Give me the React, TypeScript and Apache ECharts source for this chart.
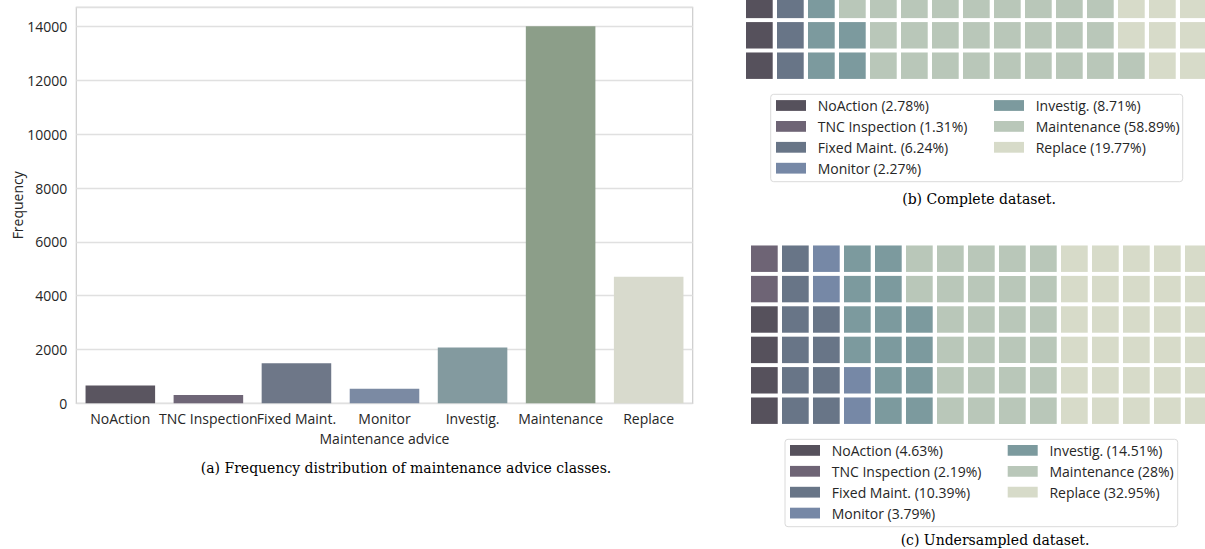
import React, { useEffect, useRef } from "react";
import * as echarts from "echarts";

// Maintenance advice classes, in plotting order
const categories = [
  "NoAction",
  "TNC Inspection",
  "Fixed Maint.",
  "Monitor",
  "Investig.",
  "Maintenance",
  "Replace",
];

// Number of samples per class (complete dataset)
const frequency = [662, 312, 1486, 541, 2074, 14020, 4707];

// Y axis tick step for the frequency plot
const yTickStep = 2000;

// Class shares (%) shown in the waffle legends
const completeShare = [2.78, 1.31, 6.24, 2.27, 8.71, 58.89, 19.77];
const undersampledShare = [4.63, 2.19, 10.39, 3.79, 14.51, 28, 32.95];

// Waffle blocks per class, filled column by column from the bottom
const completeBlocks = [3, 1, 6, 2, 8, 53, 18];
const undersampledBlocks = [4, 2, 10, 4, 14, 26, 31];
const waffleRows = 6;
const waffleCols = 16;

// Palettes
const barColors = ["#5a5560", "#6f6677", "#6e7788", "#7b8aa3", "#839a9f", "#8c9e89", "#d8dacd"];
const waffleColors = ["#56515c", "#6e6475", "#687587", "#7688a6", "#7c9a9e", "#b9c7b9", "#d7dbc9"];

const SANS = '"Open Sans", "Noto Sans", sans-serif';
const SERIF = '"DejaVu Serif", serif';
const TEXT = "#262626";

// Expand block counts into [column, row, classIndex] cells
function waffleCells(blocks: number[]) {
  const cells: number[][] = [];
  let k = 0;
  blocks.forEach((n, cls) => {
    for (let i = 0; i < n; i++, k++) {
      cells.push([Math.floor(k / waffleRows), k % waffleRows, cls]);
    }
  });
  return cells;
}

const renderCell = (_params: any, api: any) => {
  const c = api.coord([api.value(0), api.value(1)]);
  const s = api.size([1, 1]);
  const w = s[0] * 0.862;
  const h = s[1] * 0.87;
  return {
    type: "rect",
    shape: { x: c[0] - w / 2, y: c[1] - h / 2, width: w, height: h },
    style: { fill: waffleColors[api.value(2)] },
  };
};

// Legend box with two columns of swatches and labels
function legendBox(
  box: { x: number; y: number; w: number; h: number },
  colX: number[],
  rowY: number,
  shares: number[]
) {
  const children: any[] = [
    {
      type: "rect",
      shape: { x: box.x, y: box.y, width: box.w, height: box.h, r: 3 },
      style: { fill: "#ffffff", stroke: "#dadada", lineWidth: 1 },
    },
  ];
  categories.forEach((name, i) => {
    const col = i < 4 ? 0 : 1;
    const row = i < 4 ? i : i - 4;
    const cy = rowY + row * 20.9;
    children.push({
      type: "rect",
      shape: { x: colX[col], y: cy - 5.4, width: 30, height: 10.8 },
      style: { fill: waffleColors[i] },
    });
    children.push({
      type: "text",
      x: colX[col] + 41.7,
      y: cy,
      style: {
        text: `${name} (${shares[i]}%)`,
        fill: TEXT,
        font: `14px ${SANS}`,
        verticalAlign: "middle",
        align: "left",
      },
    });
  });
  return { type: "group", children };
}

function caption(text: string, x: number, y: number) {
  return {
    type: "text",
    x,
    y,
    style: { text, fill: "#000000", font: `14px ${SERIF}`, align: "center", verticalAlign: "middle" },
  };
}

export default function App() {
  const ref = useRef<HTMLDivElement>(null);

  useEffect(() => {
    const chart = echarts.init(ref.current!, undefined, { renderer: "svg" });
    const yMax = Math.max(...frequency) * 1.05;
    const pitchX = 31;
    const pitchY = 30.4;

    chart.setOption({
      animation: false,
      backgroundColor: "#ffffff",
      grid: [
        {
          left: 76.3,
          top: 7.3,
          width: 616.4,
          height: 396,
          show: true,
          borderColor: "#cccccc",
          borderWidth: 1.2,
          backgroundColor: "transparent",
          outerBoundsMode: "none",
        },
        {
          left: 743.85,
          top: 80.9 - waffleRows * pitchY,
          width: waffleCols * pitchX,
          height: waffleRows * pitchY,
          outerBoundsMode: "none",
        },
        {
          left: 748.85,
          top: 425.9 - waffleRows * pitchY,
          width: waffleCols * pitchX,
          height: waffleRows * pitchY,
          outerBoundsMode: "none",
        },
      ],
      xAxis: [
        {
          gridIndex: 0,
          type: "category",
          data: categories,
          axisLine: { show: false },
          axisTick: { show: false },
          axisLabel: { interval: 0, fontSize: 14, fontFamily: SANS, color: TEXT, margin: 8 },
          name: "Maintenance advice",
          nameLocation: "middle",
          nameGap: 28,
          nameMoveOverlap: false,
          nameTextStyle: { fontSize: 14, fontFamily: SANS, color: TEXT },
        },
        { gridIndex: 1, type: "value", min: -0.5, max: waffleCols - 0.5, show: false },
        { gridIndex: 2, type: "value", min: -0.5, max: waffleCols - 0.5, show: false },
      ],
      yAxis: [
        {
          gridIndex: 0,
          type: "value",
          min: 0,
          max: yMax,
          interval: yTickStep,
          axisLine: { show: false },
          axisTick: { show: false },
          splitLine: { lineStyle: { color: "#e0e0e0", width: 1.3 } },
          axisLabel: {
            fontSize: 14,
            fontFamily: SANS,
            color: TEXT,
            margin: 9,
            formatter: (v: number) => (v % yTickStep === 0 ? String(v) : ""),
          },
          name: "Frequency",
          nameLocation: "middle",
          nameRotate: 90,
          nameGap: 52,
          nameMoveOverlap: false,
          nameTextStyle: { fontSize: 14, fontFamily: SANS, color: TEXT },
        },
        { gridIndex: 1, type: "value", min: -0.5, max: waffleRows - 0.5, show: false },
        { gridIndex: 2, type: "value", min: -0.5, max: waffleRows - 0.5, show: false },
      ],
      series: [
        {
          type: "bar",
          xAxisIndex: 0,
          yAxisIndex: 0,
          barCategoryGap: "21%",
          data: frequency.map((v, i) => ({ value: v, itemStyle: { color: barColors[i] } })),
        },
        {
          type: "custom",
          name: "Complete dataset",
          xAxisIndex: 1,
          yAxisIndex: 1,
          renderItem: renderCell,
          encode: { x: 0, y: 1 },
          data: waffleCells(completeBlocks),
        },
        {
          type: "custom",
          name: "Undersampled dataset",
          xAxisIndex: 2,
          yAxisIndex: 2,
          renderItem: renderCell,
          encode: { x: 0, y: 1 },
          data: waffleCells(undersampledBlocks),
        },
      ],
      graphic: [
        legendBox({ x: 770.7, y: 94.3, w: 412, h: 87.4 }, [776, 994], 105.5, completeShare),
        legendBox({ x: 785, y: 439.3, w: 392.7, h: 87.4 }, [790, 1007.7], 450.4, undersampledShare),
        caption("(a) Frequency distribution of maintenance advice classes.", 406, 468),
        caption("(b) Complete dataset.", 979, 198.5),
        caption("(c) Undersampled dataset.", 995, 539.5),
      ],
    });

    return () => chart.dispose();
  }, []);

  return (
    <div
      ref={ref}
      style={{ position: "absolute", left: 0, top: 0, width: 1205, height: 549, background: "#ffffff" }}
    />
  );
}
